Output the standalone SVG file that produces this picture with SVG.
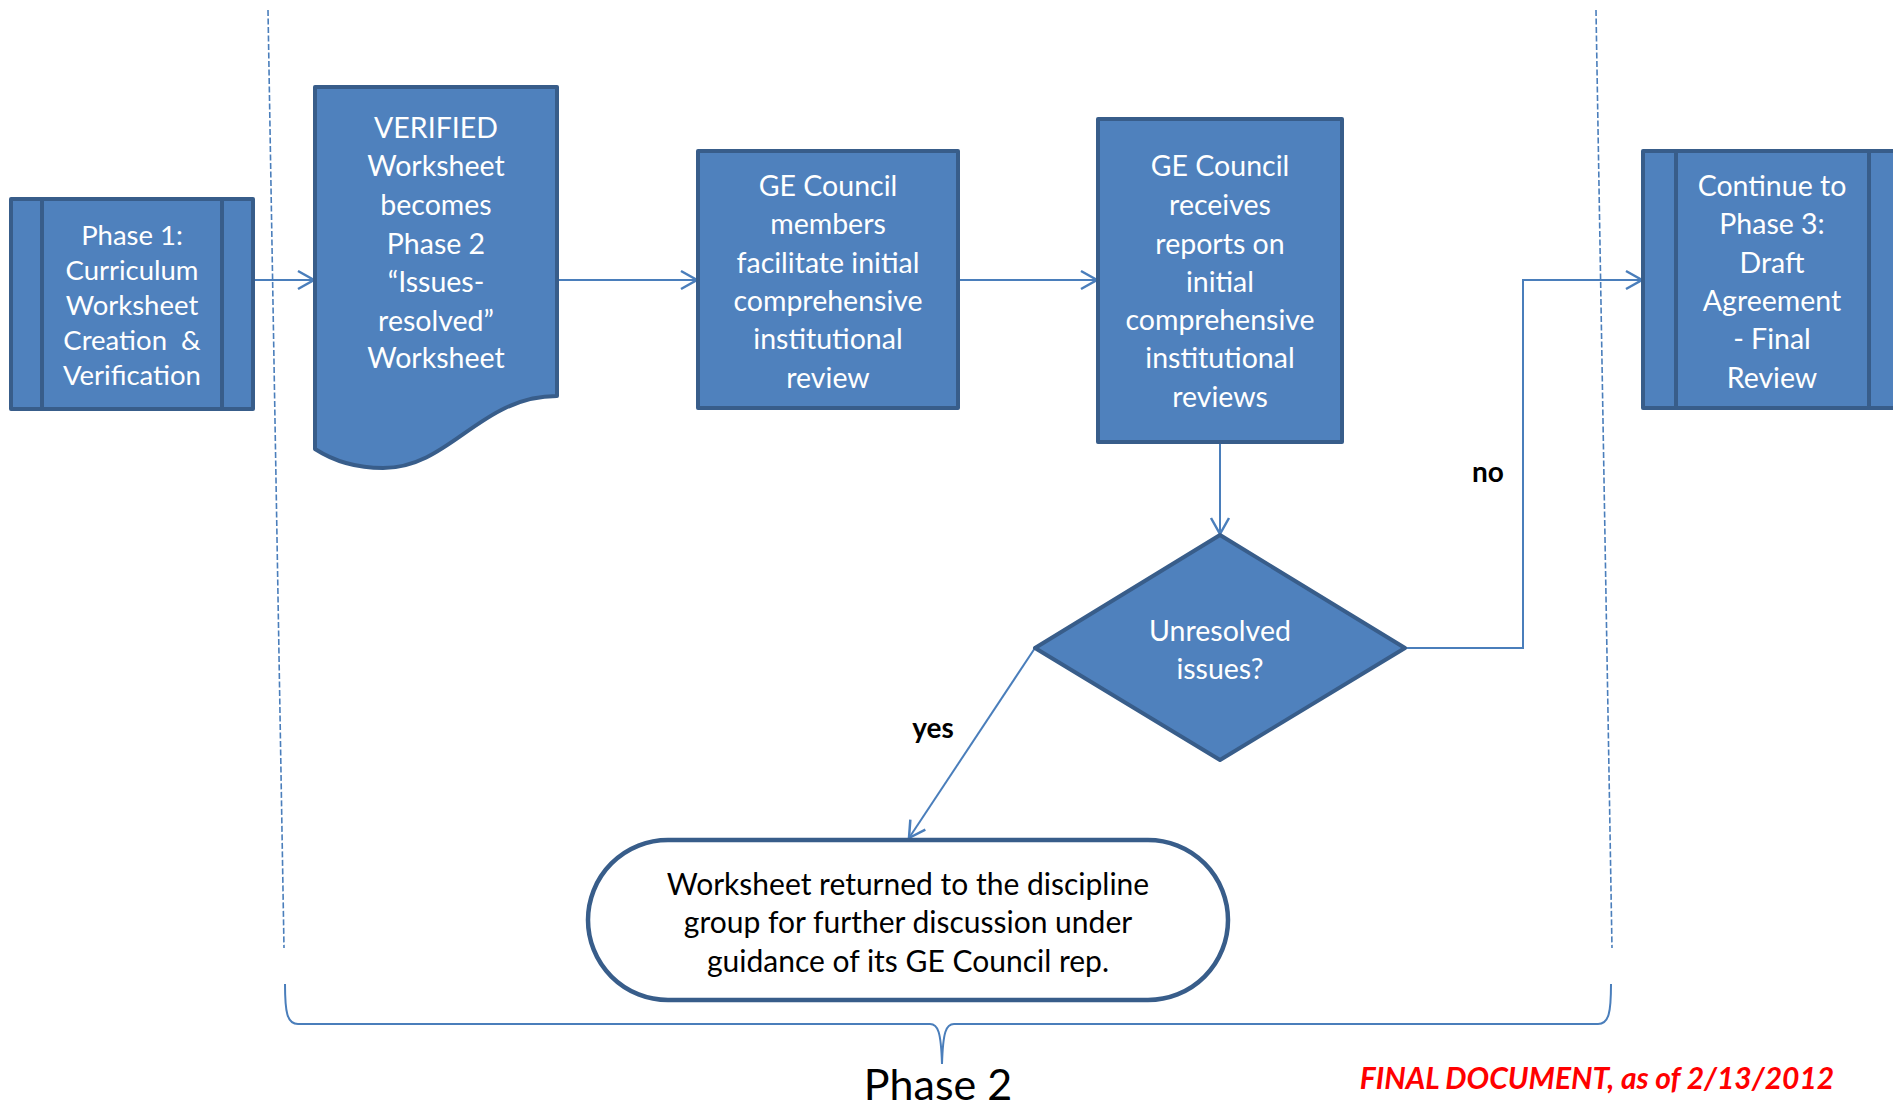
<svg xmlns="http://www.w3.org/2000/svg" width="1893" height="1108" viewBox="0 0 1893 1108">
<style>
.box{fill:#4F81BD;stroke:#385D8A;stroke-width:4;stroke-linejoin:round}
.inner{fill:none;stroke:#385D8A;stroke-width:4}
.t{font-family:Lato,"Liberation Sans",sans-serif;font-size:28.5px;fill:#FFFFFF;text-anchor:middle;dominant-baseline:central}
.t1{font-family:Lato,"Liberation Sans",sans-serif;font-size:27.5px;fill:#FFFFFF;text-anchor:middle;dominant-baseline:central}
.tb{font-family:Lato,"Liberation Sans",sans-serif;font-size:30px;fill:#000000;text-anchor:middle;dominant-baseline:central}
.lbl{font-family:Lato,"Liberation Sans",sans-serif;font-size:28px;font-weight:bold;fill:#000000;text-anchor:middle;dominant-baseline:central}
.conn{fill:none;stroke:#4A7EBB;stroke-width:2}
.dash{fill:none;stroke:#4A7EBB;stroke-width:1.6;stroke-dasharray:6 2.5}
</style>
<defs>
<marker id="arr" markerUnits="userSpaceOnUse" markerWidth="22" markerHeight="24" refX="18" refY="11" orient="auto">
<path d="M2,2 L18,11 L2,20" fill="none" stroke="#4A7EBB" stroke-width="2.5"/>
</marker>
</defs>

<g id="phase-dividers">
<line class="dash" x1="268" y1="10" x2="284" y2="948"/>
<line class="dash" x1="1596" y1="10" x2="1612" y2="948"/>
</g>

<g id="connectors">
<line class="conn" x1="254" y1="280" x2="314" y2="280" marker-end="url(#arr)"/>
<line class="conn" x1="557" y1="280" x2="697" y2="280" marker-end="url(#arr)"/>
<line class="conn" x1="958" y1="280" x2="1097" y2="280" marker-end="url(#arr)"/>
<line class="conn" x1="1220" y1="442" x2="1220" y2="534" marker-end="url(#arr)"/>
<polyline class="conn" points="1405,648 1523,648 1523,280 1642,280" marker-end="url(#arr)"/>
<line class="conn" x1="1035" y1="648" x2="909" y2="838" marker-end="url(#arr)"/>
</g>

<g id="node-phase1">
<rect class="box" x="11" y="199" width="242" height="210"/>
<line class="inner" x1="42" y1="199" x2="42" y2="409"/>
<line class="inner" x1="222" y1="199" x2="222" y2="409"/>
<text class="t1" x="132" y="234">Phase 1:</text>
<text class="t1" x="132" y="269">Curriculum</text>
<text class="t1" x="132" y="304">Worksheet</text>
<text class="t1" x="132" y="339">Creation&#160; &amp;</text>
<text class="t1" x="132" y="374">Verification</text>
</g>

<g id="node-verified">
<path class="box" d="M315,87 H557 V396 C480,396 450,468 383,468 C352,468 332,460 315,449 Z"/>
<text class="t" x="436" y="127">VERIFIED</text>
<text class="t" x="436" y="165">Worksheet</text>
<text class="t" x="436" y="204">becomes</text>
<text class="t" x="436" y="243">Phase 2</text>
<text class="t" x="436" y="281">“Issues-</text>
<text class="t" x="436" y="320">resolved”</text>
<text class="t" x="436" y="357">Worksheet</text>
</g>

<g id="node-members">
<rect class="box" x="698" y="151" width="260" height="257"/>
<text class="t" x="828" y="185">GE Council</text>
<text class="t" x="828" y="223">members</text>
<text class="t" x="828" y="262">facilitate initial</text>
<text class="t" x="828" y="300">comprehensive</text>
<text class="t" x="828" y="338">institutional</text>
<text class="t" x="828" y="377">review</text>
</g>

<g id="node-receives">
<rect class="box" x="1098" y="119" width="244" height="323"/>
<text class="t" x="1220" y="165">GE Council</text>
<text class="t" x="1220" y="204">receives</text>
<text class="t" x="1220" y="243">reports on</text>
<text class="t" x="1220" y="281">initial</text>
<text class="t" x="1220" y="319">comprehensive</text>
<text class="t" x="1220" y="357">institutional</text>
<text class="t" x="1220" y="396">reviews</text>
</g>

<g id="node-decision">
<polygon class="box" points="1220,535 1405,648 1220,760 1035,648"/>
<text class="t" x="1220" y="630">Unresolved</text>
<text class="t" x="1220" y="668">issues?</text>
</g>

<g id="node-phase3">
<rect class="box" x="1643" y="151" width="262" height="257"/>
<line class="inner" x1="1676" y1="151" x2="1676" y2="408"/>
<line class="inner" x1="1869" y1="151" x2="1869" y2="408"/>
<text class="t" x="1772" y="185">Continue to</text>
<text class="t" x="1772" y="223">Phase 3:</text>
<text class="t" x="1772" y="262">Draft</text>
<text class="t" x="1772" y="300">Agreement</text>
<text class="t" x="1772" y="338">- Final</text>
<text class="t" x="1772" y="377">Review</text>
</g>

<g id="node-returned">
<rect x="588" y="840" width="640" height="160" rx="80" ry="80" fill="#FFFFFF" stroke="#385D8A" stroke-width="4.5"/>
<text class="tb" x="908" y="883">Worksheet returned to the discipline</text>
<text class="tb" x="908" y="921">group for further discussion under</text>
<text class="tb" x="908" y="960">guidance of its GE Council rep.</text>
</g>

<g id="labels">
<text class="lbl" x="1488" y="471">no</text>
<text class="lbl" x="933" y="727">yes</text>
</g>

<g id="phase2-brace">
<path d="M285,984 C285,1012 287,1024 298,1024 H930 C938,1024 941,1032 942,1064 C943,1032 946,1024 954,1024 H1598 C1609,1024 1611,1012 1611,984" fill="none" stroke="#4A7EBB" stroke-width="2"/>
<text x="938" y="1083" font-family="Lato,'Liberation Sans',sans-serif" font-size="43px" fill="#000000" text-anchor="middle" dominant-baseline="central">Phase 2</text>
</g>

<text x="1597" y="1077" font-family="Lato,'Liberation Sans',sans-serif" font-size="30px" font-weight="bold" font-style="italic" fill="#FF0000" text-anchor="middle" dominant-baseline="central">FINAL DOCUMENT, as of 2/13/2012</text>
</svg>
